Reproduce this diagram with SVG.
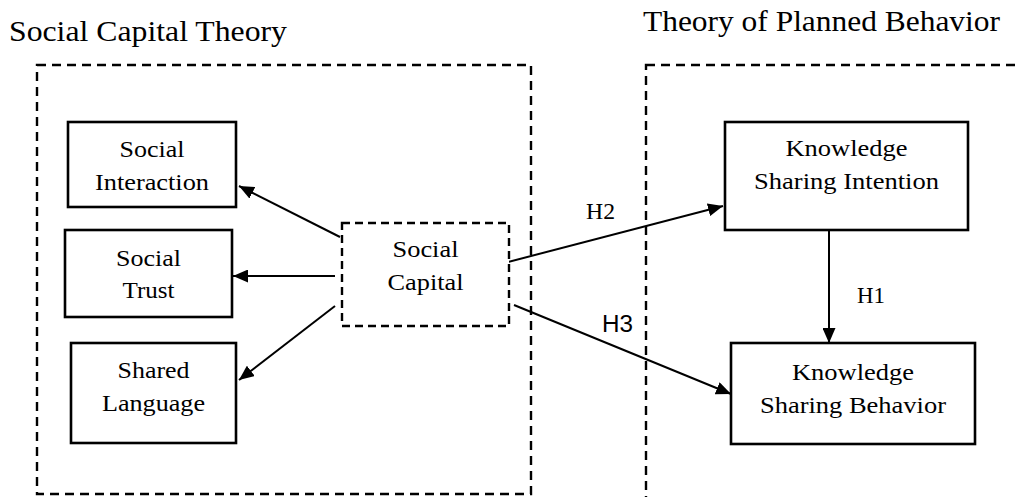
<svg xmlns="http://www.w3.org/2000/svg" width="1018" height="497" viewBox="0 0 1018 497">
<style>
text{font-family:'Liberation Serif','Times New Roman',serif;fill:#000;}
.t{font-size:24px;text-anchor:middle;}
.title{font-size:30px;}
.box{fill:#fff;stroke:#000;stroke-width:2.6;}
.dash{fill:none;stroke:#000;stroke-width:2.4;stroke-dasharray:9 6;}
.sdash{fill:#fff;stroke:#000;stroke-width:2.4;stroke-dasharray:8 5;}
.c{stroke:#000;stroke-width:2;fill:none;marker-end:url(#ah);}
.lab{font-size:24px;}
text.sans{font-family:'Liberation Sans',Arial,sans-serif;font-size:23px;}
</style>
<defs>
<marker id="ah" markerUnits="userSpaceOnUse" markerWidth="15" markerHeight="13" refX="15" refY="6.5" orient="auto">
<path d="M0,0 L15,6.5 L0,13 z" fill="#000"/>
</marker>
</defs>
<g id="frames">
<text class="title" x="9" y="41" textLength="278" lengthAdjust="spacingAndGlyphs">Social Capital Theory</text>
<text class="title" x="643" y="31" textLength="357" lengthAdjust="spacingAndGlyphs">Theory of Planned Behavior</text>
<rect class="dash" x="37" y="65" width="494" height="429"/>
<rect class="dash" x="646" y="65" width="500" height="500"/>
</g>
<g id="connectors">
<line class="c" x1="340" y1="237" x2="239" y2="186"/>
<line class="c" x1="335" y1="276" x2="233" y2="276"/>
<line class="c" x1="335" y1="306" x2="239" y2="380"/>
<line class="c" x1="508" y1="262" x2="723" y2="206"/>
<line class="c" x1="514" y1="305" x2="731" y2="394"/>
<line class="c" x1="829" y1="231" x2="829" y2="343"/>
<text class="lab" x="586" y="219" textLength="29" lengthAdjust="spacingAndGlyphs">H2</text>
<text class="sans" x="602" y="332" textLength="31" lengthAdjust="spacingAndGlyphs">H3</text>
<text class="lab" x="857" y="303" textLength="28" lengthAdjust="spacingAndGlyphs">H1</text>
</g>
<g id="social-interaction">
<rect class="box" x="68" y="122" width="168" height="85"/>
<text class="t" x="152" y="157" textLength="65" lengthAdjust="spacingAndGlyphs">Social</text>
<text class="t" x="152" y="190" textLength="114" lengthAdjust="spacingAndGlyphs">Interaction</text>
</g>
<g id="social-trust">
<rect class="box" x="65" y="230" width="167" height="87"/>
<text class="t" x="148.5" y="266" textLength="65" lengthAdjust="spacingAndGlyphs">Social</text>
<text class="t" x="148.5" y="298" textLength="52" lengthAdjust="spacingAndGlyphs">Trust</text>
</g>
<g id="shared-language">
<rect class="box" x="71" y="343" width="165" height="100"/>
<text class="t" x="153.5" y="378" textLength="72" lengthAdjust="spacingAndGlyphs">Shared</text>
<text class="t" x="153.5" y="411" textLength="103" lengthAdjust="spacingAndGlyphs">Language</text>
</g>
<g id="social-capital">
<rect class="sdash" x="342" y="223" width="167" height="103"/>
<text class="t" x="425.5" y="257" textLength="66" lengthAdjust="spacingAndGlyphs">Social</text>
<text class="t" x="425.5" y="290" textLength="76" lengthAdjust="spacingAndGlyphs">Capital</text>
</g>
<g id="knowledge-sharing-intention">
<rect class="box" x="725" y="122" width="243" height="108"/>
<text class="t" x="846.5" y="156" textLength="122" lengthAdjust="spacingAndGlyphs">Knowledge</text>
<text class="t" x="846.5" y="189" textLength="185" lengthAdjust="spacingAndGlyphs">Sharing Intention</text>
</g>
<g id="knowledge-sharing-behavior">
<rect class="box" x="731" y="343" width="244" height="101"/>
<text class="t" x="853" y="380" textLength="122" lengthAdjust="spacingAndGlyphs">Knowledge</text>
<text class="t" x="853" y="413" textLength="186" lengthAdjust="spacingAndGlyphs">Sharing Behavior</text>
</g>
</svg>
